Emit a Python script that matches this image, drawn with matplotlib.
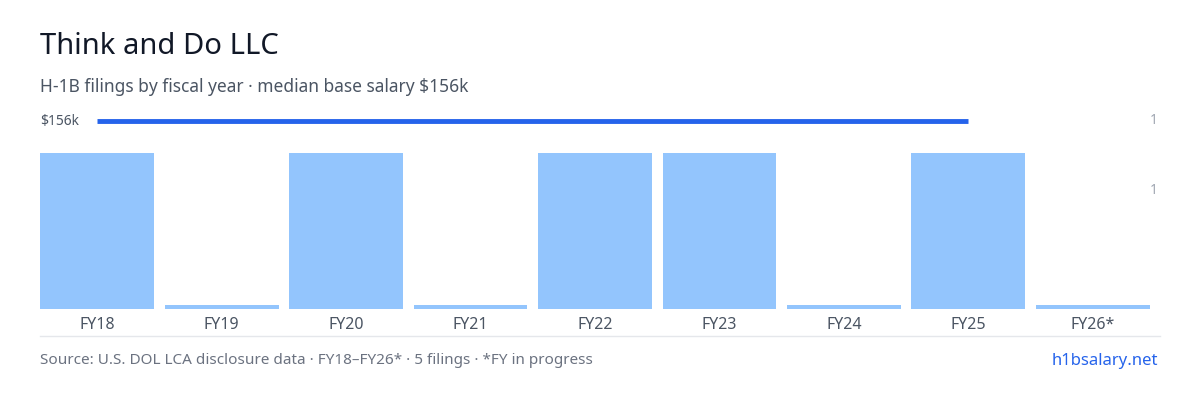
import matplotlib
matplotlib.use("Agg")
import matplotlib.pyplot as plt
from matplotlib.lines import Line2D

years = ["FY18","FY19","FY20","FY21","FY22","FY23","FY24","FY25","FY26*"]
filings = [1,0,1,0,1,1,0,1,0]
salary_k = 156

plt.rcParams['font.family'] = ['Noto Sans', 'DejaVu Sans']
fig = plt.figure(figsize=(12,4), dpi=100)
W, H = 1200, 400
ax = fig.add_axes([40/W, 91/H, 1110/W, 199/H])
shown = [max(v, 0.025) for v in filings]
x = list(range(len(years)))
ax.bar(x, shown, width=0.915, color="#93c5fd")
ax.set_xlim(-0.46, 8.46)
ax.set_ylim(0, 199/156)
line_y = (309-121)/156
filed = [i for i, v in enumerate(filings) if v > 0]
ax.plot([filed[0], filed[-1]], [line_y, line_y], color="#2563eb", lw=3.5, solid_capstyle="butt")
ax.set_xticks(x)
ax.set_xticklabels(years, fontsize=11.5, color="#4b5563")
ax.tick_params(axis='x', length=0, pad=6)
ax.set_yticks([])
for s in ax.spines.values():
    s.set_visible(False)

fig.add_artist(Line2D([40/W, 1160/W], [1-336/H]*2, color="#e5e7eb", lw=1))
fig.text(40/W, 1-47/H, "Think and Do LLC", fontsize=21, color="#111827", va="center")
fig.text(40/W, 1-87/H, "H-1B filings by fiscal year · median base salary $156k", fontsize=12.5, color="#4b5563", va="center")
fig.text(40/W, 1-121/H, f"${salary_k}k", fontsize=10, color="#4b5563", va="center")
fig.text(1158/W, 1-120/H, "1", fontsize=10, color="#9ca3af", va="center", ha="right")
fig.text(1158/W, 1-191/H, "1", fontsize=10, color="#9ca3af", va="center", ha="right")
fig.text(40/W, 1-361/H, "Source: U.S. DOL LCA disclosure data · FY18–FY26* · 5 filings · *FY in progress", fontsize=11, color="#6b7280", va="center")
fig.text(1158/W, 1-361/H, "h1bsalary.net", fontsize=12, color="#2563eb", va="center", ha="right")
fig.savefig("out.png", dpi=100, facecolor="white")
